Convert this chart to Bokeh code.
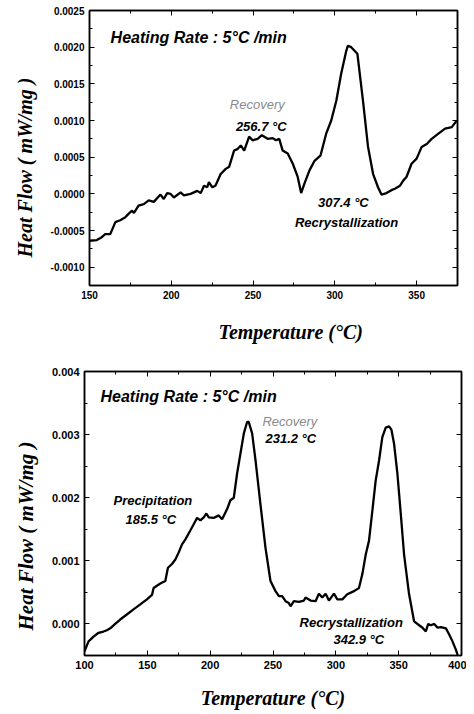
from bokeh.plotting import figure
from bokeh.models import (Label, LinearAxis, SingleIntervalTicker, PrintfTickFormatter, Range1d,
                          CustomJSTickFormatter, Title)
from bokeh.layouts import column
from bokeh.embed import file_html
from bokeh.resources import INLINE

# ---- data ----
t1_temp = [150, 154.5, 157, 159.6, 162.7, 165.8, 168.8, 171.9, 174, 176, 177.2, 180, 183.2, 186.2, 189.3,
           193.4, 195.4, 197.5, 199.5, 201.6, 205.7, 207.7, 211.8, 215.9, 218, 220, 222, 223, 225, 227,
           230.2, 233.3, 235.4, 238.4, 240.5, 242.5, 244.6, 247.6, 249.7, 252.8, 255.4, 258.9, 262, 264,
           266, 268.1, 271.2, 274.3, 277.3, 279.4, 281.4, 284.5, 287.6, 291.2, 294.7, 297.8, 300.9, 303.9,
           307, 308, 310, 313.8, 317.2, 320.3, 323.4, 326.4, 328.5, 331.6, 334.6, 336.7, 339.8, 341.8,
           343.8, 346.9, 350, 353.1, 356.2, 359.2, 363.3, 367.4, 371.5, 374.6]
t1_flow = [-0.00064, -0.00063, -0.00060, -0.00055, -0.00055, -0.000386, -0.00036, -0.00032, -0.00027,
           -0.00023, -0.00026, -0.00016, -0.00014, -0.00009, -0.00011, -0.00001, -0.00007, 0.00001, 0.0,
           -0.00005, 0.00002, -0.00002, 0.0, 0.00004, 0.00001, 0.00011, 0.00009, 0.00016, 0.00009, 0.00011,
           0.00027, 0.00034, 0.00037, 0.00059, 0.00061, 0.00066, 0.00059, 0.00078, 0.00073, 0.00075, 0.0008,
           0.00075, 0.00076, 0.00073, 0.00075, 0.00059, 0.00055, 0.00041, 0.00023, 0.00001, 0.00014, 0.00032,
           0.00045, 0.00052, 0.00082, 0.0010, 0.00127, 0.00164, 0.00195, 0.00202, 0.0020, 0.00191, 0.00127,
           0.00064, 0.00027, 0.00009, -0.00001, 0.00001, 0.00005, 0.00007, 0.00011, 0.00018, 0.00023, 0.00041,
           0.00048, 0.00064, 0.00068, 0.00075, 0.00082, 0.00089, 0.00091, 0.0010]

t2_temp = [100, 103.2, 107.2, 111.2, 115.1, 117.8, 120.5, 124.4, 128.4, 133.7, 139, 144.4, 149.7, 153.7,
           155, 160.3, 164.3, 166.4, 169.6, 172.3, 174.9, 177.6, 180.3, 184.2, 186.9, 189.6, 192.2, 194.9,
           197, 198.9, 202.8, 206.8, 209.5, 213.5, 216.1, 218.8, 221.4, 224.1, 226.8, 229.4, 230.7, 233.4,
           236.1, 240, 244, 248, 252, 254.7, 257.3, 260, 262.6, 264, 266.6, 270.6, 274.6, 275.9, 279.9,
           283.9, 286.5, 289.2, 291.9, 294.5, 298.5, 301.2, 305.2, 309.1, 314.5, 318.4, 321.1, 323.8,
           326.4, 329.1, 331.7, 334.4, 337, 339.7, 342.4, 344.2, 346.3, 349, 351.7, 354.3, 358.3, 362.3,
           366.3, 369, 371.6, 373.5, 375.6, 378.3, 381, 383.6, 387.6, 390.3, 392.9, 395.6, 396.9]
t2_flow = [-0.000435, -0.000276, -0.0002, -0.00014, -0.00012, -0.0001, -0.00007, 0.0, 0.00007, 0.00015,
           0.00023, 0.00031, 0.00039, 0.00046, 0.00057, 0.00064, 0.00068, 0.00089, 0.00095, 0.00102,
           0.00113, 0.00126, 0.00134, 0.00148, 0.00158, 0.00168, 0.00164, 0.00169, 0.00175, 0.00169,
           0.00168, 0.00172, 0.00166, 0.00182, 0.00196, 0.0020, 0.00238, 0.0027, 0.00302, 0.0032, 0.0032,
           0.00302, 0.00259, 0.0019, 0.00121, 0.00068, 0.00052, 0.00044, 0.00044, 0.00036, 0.00033,
           0.00028, 0.00036, 0.00035, 0.00037, 0.00042, 0.00037, 0.00036, 0.00048, 0.00042, 0.00048,
           0.00037, 0.00048, 0.00039, 0.00039, 0.00047, 0.00052, 0.00057, 0.00079, 0.0011, 0.00132,
           0.0018, 0.00227, 0.00259, 0.00296, 0.00311, 0.00313, 0.00308, 0.00286, 0.00238, 0.00174,
           0.0011, 0.00047, 0.00004, -0.00002, -0.00006, -0.00012, 0.0, -0.00002, 0.0, -0.00006,
           -0.00005, -0.00007, -0.00017, -0.00028, -0.00041, -0.00049]

SANS = "Liberation Sans"
SERIF = "Liberation Serif"
Y_TITLE = "Heat  Flow ( mW/mg )"
X_TITLE = "Temperature (°C)"


def style_axes(p, xint, yint, yfmt, tick_size):
    xt = SingleIntervalTicker(interval=xint, num_minor_ticks=2)
    yt = SingleIntervalTicker(interval=yint, num_minor_ticks=2)
    bottom = p.below[0]
    left = p.left[0]
    bottom.ticker = xt
    left.ticker = yt
    left.formatter = PrintfTickFormatter(format=yfmt)
    blank = CustomJSTickFormatter(code="return ''")
    top = LinearAxis(ticker=xt, formatter=blank)
    right = LinearAxis(ticker=yt, formatter=blank)
    p.add_layout(top, "above")
    p.add_layout(right, "right")
    for ax in [bottom, left, top, right]:
        ax.major_tick_in = 5
        ax.major_tick_out = 0
        ax.minor_tick_in = 3
        ax.minor_tick_out = 0
        ax.axis_line_color = "black"
        ax.axis_line_width = 1.5
        ax.major_tick_line_color = "black"
        ax.minor_tick_line_color = "black"
        ax.major_label_text_font = SANS
        ax.major_label_text_font_style = "bold"
        ax.major_label_text_font_size = tick_size
        ax.major_label_text_color = "black"
        ax.major_label_standoff = 5
    for ax in [top, right]:
        ax.major_label_standoff = 0
    p.outline_line_color = "black"
    p.outline_line_width = 1.5
    p.grid.visible = False
    p.frame_align = False
    return bottom, left


def add_title(p, text, side, offset, standoff, size):
    p.add_layout(Title(text=text, align="left", offset=offset, standoff=standoff,
                       text_font=SERIF, text_font_size=size, text_font_style="bold italic",
                       text_color="black"), side)


def add_text(p, x, y, text, size, style="bold italic", color="black"):
    p.add_layout(Label(x=x, y=y, text=text, text_font=SANS,
                       text_font_size=size, text_font_style=style, text_color=color,
                       text_align="left", text_baseline="middle"))


# ---- top chart ----
p1 = figure(frame_width=368, frame_height=275, output_backend="svg", toolbar_location=None,
            x_range=Range1d(150, 375), y_range=Range1d(-0.00125, 0.0025),
            min_border_left=89, min_border_right=5, min_border_top=10, min_border_bottom=77)
style_axes(p1, 50, 0.0005, "%.4f", "10px")
add_title(p1, X_TITLE, "below", 129, 34, "20px")
add_title(p1, Y_TITLE, "left", 28, 23, "20px")
p1.line(t1_temp, t1_flow, line_color="black", line_width=2.3)
add_text(p1, 162.9, 0.00213, "Heating Rate : 5°C /min", "16px")
add_text(p1, 235.8, 0.00122, "Recovery", "13px", style="italic", color="#8a8a8a")
add_text(p1, 239.5, 0.00092, "256.7 °C", "13px")
add_text(p1, 289.7, -0.00012, "307.4 °C", "13px")
add_text(p1, 275.6, -0.00039, "Recrystallization", "13px")

# ---- bottom chart ----
p2 = figure(frame_width=377, frame_height=284, output_backend="svg", toolbar_location=None,
            x_range=Range1d(100, 400), y_range=Range1d(-0.0005, 0.004),
            min_border_left=84, min_border_right=5, min_border_top=9, min_border_bottom=57)
bax, lax = style_axes(p2, 50, 0.001, "%.3f", "11px")
bax.axis_label = X_TITLE
bax.axis_label_standoff = 15
bax.axis_label_text_font = SERIF
bax.axis_label_text_font_size = "20px"
bax.axis_label_text_font_style = "bold italic"
bax.axis_label_text_color = "black"
add_title(p2, Y_TITLE, "left", 25, 22, "21px")
p2.line(t2_temp, t2_flow, line_color="black", line_width=2.3)
add_text(p2, 112.7, 0.00361, "Heating Rate : 5°C /min", "16px")
add_text(p2, 241.6, 0.00321, "Recovery", "13px", style="italic", color="#8a8a8a")
add_text(p2, 244, 0.00294, "231.2 °C", "13px")
add_text(p2, 123.1, 0.00195, "Precipitation", "13px")
add_text(p2, 132.6, 0.00166, "185.5 °C", "13px")
add_text(p2, 271.1, 0.00002, "Recrystallization", "13px")
add_text(p2, 298.1, -0.00025, "342.9 °C", "13px")

layout = column(p1, p2, spacing=0)
open("out.html", "w").write(file_html(layout, INLINE))
